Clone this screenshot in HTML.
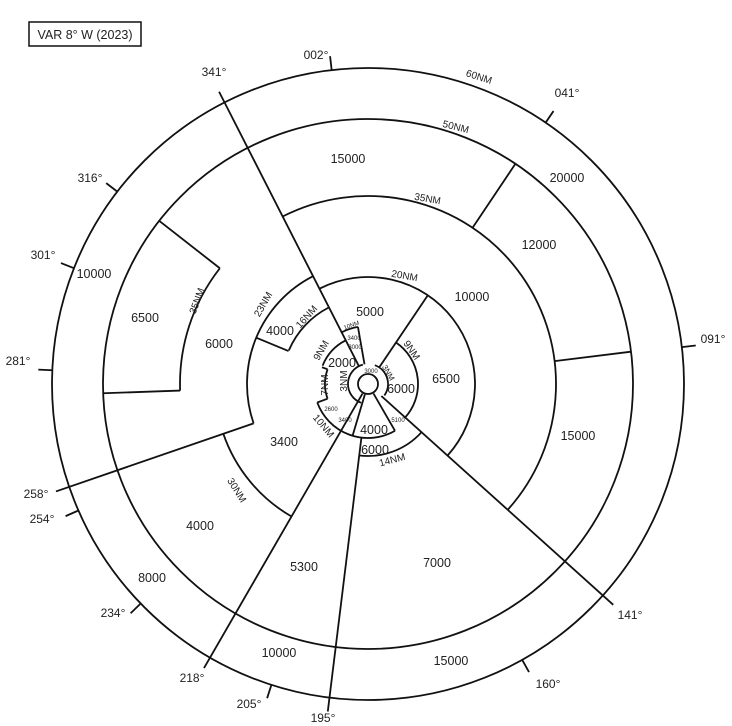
<!DOCTYPE html>
<html><head><meta charset="utf-8"><style>
html,body{margin:0;padding:0;background:#fff;}
svg{display:block;font-family:"Liberation Sans",Arial,sans-serif;}
text{fill:#222;}
</style></head><body>
<svg id="s" width="732" height="726" viewBox="0 0 732 726" xmlns="http://www.w3.org/2000/svg">
<g id="g" fill="none" stroke="#111" stroke-width="1.8"></g>
<rect x="29" y="22" width="112" height="24" fill="none" stroke="#111" stroke-width="1.5"/>
<text x="85" y="39" font-size="12.5" text-anchor="middle">VAR 8° W (2023)</text>
<g font-size="12" text-anchor="middle">
<text x="316" y="59">002°</text>
<text x="214" y="76">341°</text>
<text x="567" y="97">041°</text>
<text x="90" y="182">316°</text>
<text x="43" y="259">301°</text>
<text x="18" y="365">281°</text>
<text x="713" y="343">091°</text>
<text x="36" y="498">258°</text>
<text x="42" y="523">254°</text>
<text x="113" y="617">234°</text>
<text x="192" y="682">218°</text>
<text x="249" y="708">205°</text>
<text x="323" y="722">195°</text>
<text x="548" y="688">160°</text>
<text x="630" y="619">141°</text>
</g>
<g font-size="12.5" text-anchor="middle">
<text x="348" y="163">15000</text>
<text x="567" y="182">20000</text>
<text x="539" y="249">12000</text>
<text x="94" y="278">10000</text>
<text x="145" y="322">6500</text>
<text x="219" y="348">6000</text>
<text x="370" y="316">5000</text>
<text x="472" y="301">10000</text>
<text x="446" y="383">6500</text>
<text x="578" y="440">15000</text>
<text x="284" y="446">3400</text>
<text x="200" y="530">4000</text>
<text x="304" y="571">5300</text>
<text x="437" y="567">7000</text>
<text x="152" y="582">8000</text>
<text x="279" y="657">10000</text>
<text x="451" y="665">15000</text>
<text x="280" y="335">4000</text>
<text x="342" y="367">2000</text>
<text x="401" y="393">6000</text>
<text x="374" y="434">4000</text>
<text x="375" y="454">6000</text>
</g>
<g font-size="10">
<text transform="translate(478,80) rotate(18)" text-anchor="middle">60NM</text>
<text transform="translate(455,130) rotate(14)" text-anchor="middle">50NM</text>
<text transform="translate(427,202) rotate(10)" text-anchor="middle">35NM</text>
<text transform="translate(404,279) rotate(10)" text-anchor="middle">20NM</text>
<text transform="translate(200,302) rotate(-70)" text-anchor="middle">35NM</text>
<text transform="translate(266,306) rotate(-60)" text-anchor="middle">23NM</text>
<text transform="translate(309,319) rotate(-48)" text-anchor="middle">16NM</text>
<text transform="translate(234,492) rotate(58)" text-anchor="middle">30NM</text>
<text transform="translate(393,463) rotate(-15)" text-anchor="middle">14NM</text>
<text transform="translate(409,352) rotate(55)" text-anchor="middle">9NM</text>
<text transform="translate(324,352) rotate(-60)" text-anchor="middle">9NM</text>
<text transform="translate(328,385) rotate(-90)" text-anchor="middle">7NM</text>
<text transform="translate(347,381) rotate(-90)" text-anchor="middle">3NM</text>
<text transform="translate(321,428) rotate(50)" text-anchor="middle">10NM</text>
<text transform="translate(386,374) rotate(60)" text-anchor="middle" font-size="8">3NM</text>
</g>
<g font-size="6" text-anchor="middle">
<text transform="translate(352,327) rotate(-20)">10NM</text>
<text x="354" y="340">3400</text>
<text x="355" y="349">3000</text>
<text x="371" y="373">3000</text>
<text x="331" y="411">2600</text>
<text x="345" y="422">3400</text>
<text x="398" y="422">5100</text>
</g>
</svg>
<script>
var cx=368,cy=384,g=document.getElementById('g'),NS='http://www.w3.org/2000/svg';
function P(r,t){t=t*Math.PI/180;return [cx+r*Math.sin(t),cy-r*Math.cos(t)];}
function add(d){var p=document.createElementNS(NS,'path');p.setAttribute('d',d);g.appendChild(p);}
function arc(r,a,b){var s=P(r,a),e=P(r,b),l=(b-a)>180?1:0;add('M'+s[0]+' '+s[1]+' A'+r+' '+r+' 0 '+l+' 1 '+e[0]+' '+e[1]);}
function rad(t,r1,r2){var s=P(r1,t),e=P(r2,t);add('M'+s[0]+' '+s[1]+' L'+e[0]+' '+e[1]);}
function circ(r){arc(r,0,180);arc(r,180,360);}
circ(316);circ(265);circ(10);
arc(188,333,492);arc(188,268,308);arc(107,333,492);arc(121,251,333);arc(86,293,333);
arc(153,210,251);arc(50,34,133);arc(72,132,187);arc(54,150,250);
arc(20,20,125);arc(20,200,345);arc(43,250,290);arc(49,292,333);arc(58,333,350);
rad(333,20,328);rad(34,20,107);rad(33.8,188,265);rad(83,188,265);rad(132,18,330);
rad(150,11,54);rad(187,54,330);rad(196.6,11,54);rad(210,11,328);rad(251,121,330);
rad(268,188,265);rad(308,188,265);rad(292.5,86,121);rad(250,43,54);rad(290,43,49);rad(350,20,58);
[353.4,34.2,83.3,150.8,197.8,226,246.4,272.5,291.5,307.5].forEach(function(t){rad(t,316,330);});
</script>
</body></html>
